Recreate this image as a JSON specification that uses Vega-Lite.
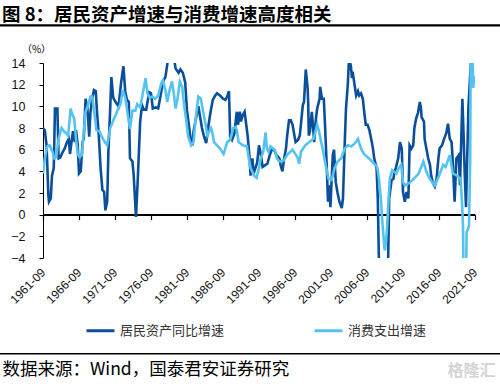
{
  "$schema": "https://vega.github.io/schema/vega-lite/v6.json",
  "autosize": "none",
  "width": 432,
  "height": 195,
  "padding": {"left": 43, "top": 63, "right": 25, "bottom": 131},
  "background": "white",
  "title": {"text": "图 8：居民资产增速与消费增速高度相关", "anchor": "start", "frame": "group", "dx": -41, "dy": 4, "offset": 4, "font": "Noto Sans CJK SC", "fontSize": 18.5, "fontWeight": "bold", "color": "#000000"},
  "config": {"view": {"stroke": null}, "axis": {"labelFont": "Liberation Sans", "labelColor": "#111111", "domainColor": "#000000", "tickColor": "#000000", "grid": false}},
  "resolve": {"axis": {"x": "independent", "y": "independent"}},
  "data": {"values": [
        {"date": "1961-09", "series": "居民资产同比增速", "value": 8.0},
        {"date": "1961-12", "series": "居民资产同比增速", "value": 7.8},
        {"date": "1962-03", "series": "居民资产同比增速", "value": 6.4},
        {"date": "1962-06", "series": "居民资产同比增速", "value": 1.8},
        {"date": "1962-07", "series": "居民资产同比增速", "value": 1.2},
        {"date": "1962-10", "series": "居民资产同比增速", "value": 1.5},
        {"date": "1962-12", "series": "居民资产同比增速", "value": 3.6},
        {"date": "1963-03", "series": "居民资产同比增速", "value": 4.3},
        {"date": "1963-05", "series": "居民资产同比增速", "value": 9.8},
        {"date": "1963-09", "series": "居民资产同比增速", "value": 9.8},
        {"date": "1963-11", "series": "居民资产同比增速", "value": 5.2},
        {"date": "1964-02", "series": "居民资产同比增速", "value": 5.3},
        {"date": "1964-06", "series": "居民资产同比增速", "value": 5.8},
        {"date": "1964-09", "series": "居民资产同比增速", "value": 6.1},
        {"date": "1965-01", "series": "居民资产同比增速", "value": 6.7},
        {"date": "1965-04", "series": "居民资产同比增速", "value": 7.0},
        {"date": "1965-06", "series": "居民资产同比增速", "value": 5.6},
        {"date": "1965-09", "series": "居民资产同比增速", "value": 6.9},
        {"date": "1965-11", "series": "居民资产同比增速", "value": 7.7},
        {"date": "1966-02", "series": "居民资产同比增速", "value": 6.7},
        {"date": "1966-04", "series": "居民资产同比增速", "value": 7.8},
        {"date": "1966-07", "series": "居民资产同比增速", "value": 6.4},
        {"date": "1966-09", "series": "居民资产同比增速", "value": 3.8},
        {"date": "1966-12", "series": "居民资产同比增速", "value": 4.0},
        {"date": "1967-03", "series": "居民资产同比增速", "value": 6.7},
        {"date": "1967-05", "series": "居民资产同比增速", "value": 7.0},
        {"date": "1967-08", "series": "居民资产同比增速", "value": 10.7},
        {"date": "1967-11", "series": "居民资产同比增速", "value": 9.8},
        {"date": "1968-02", "series": "居民资产同比增速", "value": 7.2},
        {"date": "1968-04", "series": "居民资产同比增速", "value": 9.4},
        {"date": "1968-07", "series": "居民资产同比增速", "value": 10.7},
        {"date": "1968-10", "series": "居民资产同比增速", "value": 11.5},
        {"date": "1969-01", "series": "居民资产同比增速", "value": 11.4},
        {"date": "1969-03", "series": "居民资产同比增速", "value": 9.5},
        {"date": "1969-06", "series": "居民资产同比增速", "value": 7.3},
        {"date": "1969-09", "series": "居民资产同比增速", "value": 4.3},
        {"date": "1969-12", "series": "居民资产同比增速", "value": 2.3},
        {"date": "1970-03", "series": "居民资产同比增速", "value": 2.1},
        {"date": "1970-05", "series": "居民资产同比增速", "value": 0.4},
        {"date": "1970-08", "series": "居民资产同比增速", "value": 1.2},
        {"date": "1970-10", "series": "居民资产同比增速", "value": 5.8},
        {"date": "1971-01", "series": "居民资产同比增速", "value": 9.8},
        {"date": "1971-03", "series": "居民资产同比增速", "value": 12.7},
        {"date": "1971-06", "series": "居民资产同比增速", "value": 10.8},
        {"date": "1971-11", "series": "居民资产同比增速", "value": 10.3},
        {"date": "1972-03", "series": "居民资产同比增速", "value": 10.0},
        {"date": "1972-07", "series": "居民资产同比增速", "value": 12.1},
        {"date": "1972-11", "series": "居民资产同比增速", "value": 13.7},
        {"date": "1973-02", "series": "居民资产同比增速", "value": 11.4},
        {"date": "1973-05", "series": "居民资产同比增速", "value": 10.6},
        {"date": "1973-08", "series": "居民资产同比增速", "value": 10.4},
        {"date": "1973-10", "series": "居民资产同比增速", "value": 5.2},
        {"date": "1974-02", "series": "居民资产同比增速", "value": 4.9},
        {"date": "1974-04", "series": "居民资产同比增速", "value": 3.8},
        {"date": "1974-08", "series": "居民资产同比增速", "value": -0.2},
        {"date": "1974-11", "series": "居民资产同比增速", "value": 3.3},
        {"date": "1975-03", "series": "居民资产同比增速", "value": 8.6},
        {"date": "1975-06", "series": "居民资产同比增速", "value": 10.1},
        {"date": "1975-09", "series": "居民资产同比增速", "value": 9.7},
        {"date": "1976-01", "series": "居民资产同比增速", "value": 9.7},
        {"date": "1976-06", "series": "居民资产同比增速", "value": 11.3},
        {"date": "1976-09", "series": "居民资产同比增速", "value": 11.2},
        {"date": "1976-12", "series": "居民资产同比增速", "value": 9.8},
        {"date": "1977-05", "series": "居民资产同比增速", "value": 9.9},
        {"date": "1977-09", "series": "居民资产同比增速", "value": 9.8},
        {"date": "1978-01", "series": "居民资产同比增速", "value": 11.0},
        {"date": "1978-05", "series": "居民资产同比增速", "value": 12.3},
        {"date": "1978-09", "series": "居民资产同比增速", "value": 12.7},
        {"date": "1979-01", "series": "居民资产同比增速", "value": 14.2},
        {"date": "1979-06", "series": "居民资产同比增速", "value": 14.3},
        {"date": "1979-12", "series": "居民资产同比增速", "value": 14.2},
        {"date": "1980-02", "series": "居民资产同比增速", "value": 13.5},
        {"date": "1980-07", "series": "居民资产同比增速", "value": 13.1},
        {"date": "1980-10", "series": "居民资产同比增速", "value": 13.4},
        {"date": "1981-02", "series": "居民资产同比增速", "value": 13.1},
        {"date": "1981-06", "series": "居民资产同比增速", "value": 12.2},
        {"date": "1981-09", "series": "居民资产同比增速", "value": 9.6},
        {"date": "1981-12", "series": "居民资产同比增速", "value": 8.3},
        {"date": "1982-03", "series": "居民资产同比增速", "value": 7.0},
        {"date": "1982-06", "series": "居民资产同比增速", "value": 6.4},
        {"date": "1982-08", "series": "居民资产同比增速", "value": 7.7},
        {"date": "1982-11", "series": "居民资产同比增速", "value": 8.6},
        {"date": "1983-04", "series": "居民资产同比增速", "value": 10.0},
        {"date": "1983-07", "series": "居民资产同比增速", "value": 9.0},
        {"date": "1983-10", "series": "居民资产同比增速", "value": 8.0},
        {"date": "1984-01", "series": "居民资产同比增速", "value": 7.3},
        {"date": "1984-05", "series": "居民资产同比增速", "value": 6.6},
        {"date": "1984-09", "series": "居民资产同比增速", "value": 8.3},
        {"date": "1984-12", "series": "居民资产同比增速", "value": 9.4},
        {"date": "1985-04", "series": "居民资产同比增速", "value": 10.6},
        {"date": "1985-08", "series": "居民资产同比增速", "value": 11.0},
        {"date": "1985-11", "series": "居民资产同比增速", "value": 11.2},
        {"date": "1986-04", "series": "居民资产同比增速", "value": 11.0},
        {"date": "1986-09", "series": "居民资产同比增速", "value": 10.7},
        {"date": "1987-01", "series": "居民资产同比增速", "value": 10.6},
        {"date": "1987-04", "series": "居民资产同比增速", "value": 10.9},
        {"date": "1987-07", "series": "居民资产同比增速", "value": 11.4},
        {"date": "1987-09", "series": "居民资产同比增速", "value": 7.2},
        {"date": "1987-12", "series": "居民资产同比增速", "value": 6.9},
        {"date": "1988-04", "series": "居民资产同比增速", "value": 7.5},
        {"date": "1988-08", "series": "居民资产同比增速", "value": 9.5},
        {"date": "1988-10", "series": "居民资产同比增速", "value": 8.3},
        {"date": "1989-01", "series": "居民资产同比增速", "value": 9.5},
        {"date": "1989-03", "series": "居民资产同比增速", "value": 8.6},
        {"date": "1989-06", "series": "居民资产同比增速", "value": 9.2},
        {"date": "1989-09", "series": "居民资产同比增速", "value": 9.5},
        {"date": "1990-02", "series": "居民资产同比增速", "value": 7.3},
        {"date": "1990-05", "series": "居民资产同比增速", "value": 5.5},
        {"date": "1990-07", "series": "居民资产同比增速", "value": 3.6},
        {"date": "1990-10", "series": "居民资产同比增速", "value": 5.2},
        {"date": "1990-12", "series": "居民资产同比增速", "value": 3.8},
        {"date": "1991-03", "series": "居民资产同比增速", "value": 4.3},
        {"date": "1991-06", "series": "居民资产同比增速", "value": 4.8},
        {"date": "1991-09", "series": "居民资产同比增速", "value": 6.4},
        {"date": "1991-12", "series": "居民资产同比增速", "value": 5.6},
        {"date": "1992-03", "series": "居民资产同比增速", "value": 4.4},
        {"date": "1992-08", "series": "居民资产同比增速", "value": 4.6},
        {"date": "1992-11", "series": "居民资产同比增速", "value": 4.7},
        {"date": "1993-03", "series": "居民资产同比增速", "value": 5.5},
        {"date": "1993-07", "series": "居民资产同比增速", "value": 6.1},
        {"date": "1993-10", "series": "居民资产同比增速", "value": 6.0},
        {"date": "1994-02", "series": "居民资产同比增速", "value": 5.5},
        {"date": "1994-07", "series": "居民资产同比增速", "value": 5.2},
        {"date": "1994-09", "series": "居民资产同比增速", "value": 4.6},
        {"date": "1994-12", "series": "居民资产同比增速", "value": 4.0},
        {"date": "1995-03", "series": "居民资产同比增速", "value": 5.2},
        {"date": "1995-06", "series": "居民资产同比增速", "value": 6.1},
        {"date": "1995-08", "series": "居民资产同比增速", "value": 7.3},
        {"date": "1995-11", "series": "居民资产同比增速", "value": 8.7},
        {"date": "1996-02", "series": "居民资产同比增速", "value": 8.7},
        {"date": "1996-05", "series": "居民资产同比增速", "value": 8.3},
        {"date": "1996-08", "series": "居民资产同比增速", "value": 7.3},
        {"date": "1996-10", "series": "居民资产同比增速", "value": 6.7},
        {"date": "1997-02", "series": "居民资产同比增速", "value": 6.9},
        {"date": "1997-05", "series": "居民资产同比增速", "value": 7.3},
        {"date": "1997-07", "series": "居民资产同比增速", "value": 8.4},
        {"date": "1997-10", "series": "居民资产同比增速", "value": 10.1},
        {"date": "1997-12", "series": "居民资产同比增速", "value": 10.4},
        {"date": "1998-03", "series": "居民资产同比增速", "value": 13.4},
        {"date": "1998-06", "series": "居民资产同比增速", "value": 11.7},
        {"date": "1998-07", "series": "居民资产同比增速", "value": 10.4},
        {"date": "1998-08", "series": "居民资产同比增速", "value": 7.3},
        {"date": "1998-10", "series": "居民资产同比增速", "value": 7.7},
        {"date": "1999-01", "series": "居民资产同比增速", "value": 9.5},
        {"date": "1999-03", "series": "居民资产同比增速", "value": 8.3},
        {"date": "1999-05", "series": "居民资产同比增速", "value": 6.7},
        {"date": "1999-08", "series": "居民资产同比增速", "value": 8.9},
        {"date": "1999-10", "series": "居民资产同比增速", "value": 9.8},
        {"date": "2000-02", "series": "居民资产同比增速", "value": 10.7},
        {"date": "2000-03", "series": "居民资产同比增速", "value": 11.8},
        {"date": "2000-06", "series": "居民资产同比增速", "value": 10.7},
        {"date": "2000-09", "series": "居民资产同比增速", "value": 10.7},
        {"date": "2000-11", "series": "居民资产同比增速", "value": 8.3},
        {"date": "2001-02", "series": "居民资产同比增速", "value": 4.3},
        {"date": "2001-04", "series": "居民资产同比增速", "value": 1.2},
        {"date": "2001-06", "series": "居民资产同比增速", "value": 2.7},
        {"date": "2001-08", "series": "居民资产同比增速", "value": 0.7},
        {"date": "2001-12", "series": "居民资产同比增速", "value": 5.5},
        {"date": "2002-02", "series": "居民资产同比增速", "value": 6.0},
        {"date": "2002-05", "series": "居民资产同比增速", "value": 3.0},
        {"date": "2002-08", "series": "居民资产同比增速", "value": 2.0},
        {"date": "2002-11", "series": "居民资产同比增速", "value": 1.2},
        {"date": "2003-03", "series": "居民资产同比增速", "value": 0.6},
        {"date": "2003-05", "series": "居民资产同比增速", "value": 1.5},
        {"date": "2003-08", "series": "居民资产同比增速", "value": 6.7},
        {"date": "2003-10", "series": "居民资产同比增速", "value": 9.8},
        {"date": "2004-01", "series": "居民资产同比增速", "value": 12.0},
        {"date": "2004-03", "series": "居民资产同比增速", "value": 14.3},
        {"date": "2004-06", "series": "居民资产同比增速", "value": 13.8},
        {"date": "2004-08", "series": "居民资产同比增速", "value": 12.6},
        {"date": "2004-09", "series": "居民资产同比增速", "value": 13.2},
        {"date": "2004-12", "series": "居民资产同比增速", "value": 12.1},
        {"date": "2005-03", "series": "居民资产同比增速", "value": 11.0},
        {"date": "2005-06", "series": "居民资产同比增速", "value": 11.4},
        {"date": "2005-08", "series": "居民资产同比增速", "value": 11.0},
        {"date": "2005-11", "series": "居民资产同比增速", "value": 11.2},
        {"date": "2006-02", "series": "居民资产同比增速", "value": 10.7},
        {"date": "2006-05", "series": "居民资产同比增速", "value": 9.2},
        {"date": "2006-07", "series": "居民资产同比增速", "value": 8.3},
        {"date": "2006-10", "series": "居民资产同比增速", "value": 8.3},
        {"date": "2007-01", "series": "居民资产同比增速", "value": 7.8},
        {"date": "2007-05", "series": "居民资产同比增速", "value": 6.7},
        {"date": "2007-07", "series": "居民资产同比增速", "value": 6.1},
        {"date": "2007-09", "series": "居民资产同比增速", "value": 5.2},
        {"date": "2008-01", "series": "居民资产同比增速", "value": 4.3},
        {"date": "2008-03", "series": "居民资产同比增速", "value": 1.5},
        {"date": "2008-05", "series": "居民资产同比增速", "value": -4.5},
        {"date": "2008-08", "series": "居民资产同比增速", "value": -8.0},
        {"date": "2009-02", "series": "居民资产同比增速", "value": -10.0},
        {"date": "2009-06", "series": "居民资产同比增速", "value": -7.0},
        {"date": "2009-08", "series": "居民资产同比增速", "value": -5.0},
        {"date": "2009-10", "series": "居民资产同比增速", "value": 1.5},
        {"date": "2010-02", "series": "居民资产同比增速", "value": 3.2},
        {"date": "2010-05", "series": "居民资产同比增速", "value": 3.3},
        {"date": "2010-07", "series": "居民资产同比增速", "value": 4.0},
        {"date": "2010-09", "series": "居民资产同比增速", "value": 4.3},
        {"date": "2011-01", "series": "居民资产同比增速", "value": 5.2},
        {"date": "2011-04", "series": "居民资产同比增速", "value": 6.7},
        {"date": "2011-07", "series": "居民资产同比增速", "value": 6.1},
        {"date": "2011-09", "series": "居民资产同比增速", "value": 2.1},
        {"date": "2011-12", "series": "居民资产同比增速", "value": 1.2},
        {"date": "2012-03", "series": "居民资产同比增速", "value": 2.1},
        {"date": "2012-06", "series": "居民资产同比增速", "value": 1.5},
        {"date": "2012-08", "series": "居民资产同比增速", "value": 6.4},
        {"date": "2012-11", "series": "居民资产同比增速", "value": 6.1},
        {"date": "2013-02", "series": "居民资产同比增速", "value": 6.4},
        {"date": "2013-04", "series": "居民资产同比增速", "value": 8.0},
        {"date": "2013-07", "series": "居民资产同比增速", "value": 8.9},
        {"date": "2013-10", "series": "居民资产同比增速", "value": 9.4},
        {"date": "2014-01", "series": "居民资产同比增速", "value": 10.4},
        {"date": "2014-03", "series": "居民资产同比增速", "value": 9.8},
        {"date": "2014-04", "series": "居民资产同比增速", "value": 9.0},
        {"date": "2014-08", "series": "居民资产同比增速", "value": 8.6},
        {"date": "2014-09", "series": "居民资产同比增速", "value": 7.0},
        {"date": "2014-12", "series": "居民资产同比增速", "value": 6.1},
        {"date": "2015-03", "series": "居民资产同比增速", "value": 5.2},
        {"date": "2015-06", "series": "居民资产同比增速", "value": 4.6},
        {"date": "2015-08", "series": "居民资产同比增速", "value": 3.6},
        {"date": "2015-11", "series": "居民资产同比增速", "value": 2.9},
        {"date": "2016-02", "series": "居民资产同比增速", "value": 2.6},
        {"date": "2016-05", "series": "居民资产同比增速", "value": 3.3},
        {"date": "2016-08", "series": "居民资产同比增速", "value": 5.2},
        {"date": "2016-10", "series": "居民资产同比增速", "value": 6.1},
        {"date": "2017-02", "series": "居民资产同比增速", "value": 6.4},
        {"date": "2017-05", "series": "居民资产同比增速", "value": 6.9},
        {"date": "2017-07", "series": "居民资产同比增速", "value": 7.2},
        {"date": "2017-09", "series": "居民资产同比增速", "value": 7.5},
        {"date": "2017-12", "series": "居民资产同比增速", "value": 8.4},
        {"date": "2018-03", "series": "居民资产同比增速", "value": 7.0},
        {"date": "2018-06", "series": "居民资产同比增速", "value": 6.7},
        {"date": "2018-08", "series": "居民资产同比增速", "value": 4.9},
        {"date": "2018-11", "series": "居民资产同比增速", "value": 1.2},
        {"date": "2019-02", "series": "居民资产同比增速", "value": 5.2},
        {"date": "2019-06", "series": "居民资产同比增速", "value": 5.5},
        {"date": "2019-08", "series": "居民资产同比增速", "value": 2.7},
        {"date": "2019-10", "series": "居民资产同比增速", "value": 6.7},
        {"date": "2019-12", "series": "居民资产同比增速", "value": 10.7},
        {"date": "2020-02", "series": "居民资产同比增速", "value": 7.3},
        {"date": "2020-04", "series": "居民资产同比增速", "value": 3.6},
        {"date": "2020-06", "series": "居民资产同比增速", "value": 0.7},
        {"date": "2020-08", "series": "居民资产同比增速", "value": 5.2},
        {"date": "2020-10", "series": "居民资产同比增速", "value": 9.8},
        {"date": "2021-01", "series": "居民资产同比增速", "value": 13.0},
        {"date": "2021-03", "series": "居民资产同比增速", "value": 14.8},
        {"date": "2021-06", "series": "居民资产同比增速", "value": 14.6},
        {"date": "1961-09", "series": "消费支出增速", "value": 3.8},
        {"date": "1961-12", "series": "消费支出增速", "value": 5.2},
        {"date": "1962-04", "series": "消费支出增速", "value": 6.3},
        {"date": "1962-08", "series": "消费支出增速", "value": 6.4},
        {"date": "1963-01", "series": "消费支出增速", "value": 5.8},
        {"date": "1963-04", "series": "消费支出增速", "value": 5.2},
        {"date": "1963-07", "series": "消费支出增速", "value": 5.3},
        {"date": "1963-11", "series": "消费支出增速", "value": 7.0},
        {"date": "1964-04", "series": "消费支出增速", "value": 8.0},
        {"date": "1964-08", "series": "消费支出增速", "value": 7.7},
        {"date": "1964-12", "series": "消费支出增速", "value": 7.5},
        {"date": "1965-03", "series": "消费支出增速", "value": 7.3},
        {"date": "1965-07", "series": "消费支出增速", "value": 9.8},
        {"date": "1965-10", "series": "消费支出增速", "value": 9.2},
        {"date": "1966-01", "series": "消费支出增速", "value": 8.9},
        {"date": "1966-04", "series": "消费支出增速", "value": 7.0},
        {"date": "1966-07", "series": "消费支出增速", "value": 5.6},
        {"date": "1966-10", "series": "消费支出增速", "value": 5.3},
        {"date": "1967-02", "series": "消费支出增速", "value": 5.5},
        {"date": "1967-05", "series": "消费支出增速", "value": 7.7},
        {"date": "1967-08", "series": "消费支出增速", "value": 9.5},
        {"date": "1967-12", "series": "消费支出增速", "value": 10.1},
        {"date": "1968-04", "series": "消费支出增速", "value": 10.9},
        {"date": "1968-07", "series": "消费支出增速", "value": 10.9},
        {"date": "1968-11", "series": "消费支出增速", "value": 9.2},
        {"date": "1969-02", "series": "消费支出增速", "value": 7.8},
        {"date": "1969-07", "series": "消费支出增速", "value": 7.7},
        {"date": "1969-11", "series": "消费支出增速", "value": 7.2},
        {"date": "1970-04", "series": "消费支出增速", "value": 6.7},
        {"date": "1970-08", "series": "消费支出增速", "value": 6.4},
        {"date": "1971-01", "series": "消费支出增速", "value": 8.0},
        {"date": "1971-04", "series": "消费支出增速", "value": 8.4},
        {"date": "1971-07", "series": "消费支出增速", "value": 8.8},
        {"date": "1971-11", "series": "消费支出增速", "value": 9.3},
        {"date": "1972-01", "series": "消费支出增速", "value": 9.6},
        {"date": "1972-06", "series": "消费支出增速", "value": 10.2},
        {"date": "1972-10", "series": "消费支出增速", "value": 11.5},
        {"date": "1973-02", "series": "消费支出增速", "value": 10.8},
        {"date": "1973-07", "series": "消费支出增速", "value": 9.0},
        {"date": "1973-10", "series": "消费支出增速", "value": 7.9},
        {"date": "1974-02", "series": "消费支出增速", "value": 9.6},
        {"date": "1974-07", "series": "消费支出增速", "value": 9.6},
        {"date": "1974-10", "series": "消费支出增速", "value": 10.2},
        {"date": "1975-03", "series": "消费支出增速", "value": 9.9},
        {"date": "1975-08", "series": "消费支出增速", "value": 11.4},
        {"date": "1975-12", "series": "消费支出增速", "value": 12.6},
        {"date": "1976-03", "series": "消费支出增速", "value": 11.2},
        {"date": "1976-07", "series": "消费支出增速", "value": 10.8},
        {"date": "1976-11", "series": "消费支出增速", "value": 10.9},
        {"date": "1977-04", "series": "消费支出增速", "value": 10.7},
        {"date": "1977-09", "series": "消费支出增速", "value": 11.0},
        {"date": "1978-02", "series": "消费支出增速", "value": 12.1},
        {"date": "1978-05", "series": "消费支出增速", "value": 12.4},
        {"date": "1978-09", "series": "消费支出增速", "value": 11.5},
        {"date": "1978-12", "series": "消费支出增速", "value": 10.4},
        {"date": "1979-04", "series": "消费支出增速", "value": 11.5},
        {"date": "1979-08", "series": "消费支出增速", "value": 12.3},
        {"date": "1979-11", "series": "消费支出增速", "value": 11.2},
        {"date": "1980-02", "series": "消费支出增速", "value": 9.8},
        {"date": "1980-05", "series": "消费支出增速", "value": 10.6},
        {"date": "1980-09", "series": "消费支出增速", "value": 12.3},
        {"date": "1981-01", "series": "消费支出增速", "value": 11.8},
        {"date": "1981-04", "series": "消费支出增速", "value": 10.2},
        {"date": "1981-08", "series": "消费支出增速", "value": 8.6},
        {"date": "1981-11", "series": "消费支出增速", "value": 7.2},
        {"date": "1982-04", "series": "消费支出增速", "value": 6.4},
        {"date": "1982-08", "series": "消费支出增速", "value": 6.7},
        {"date": "1982-11", "series": "消费支出增速", "value": 8.6},
        {"date": "1983-02", "series": "消费支出增速", "value": 10.1},
        {"date": "1983-04", "series": "消费支出增速", "value": 10.9},
        {"date": "1983-08", "series": "消费支出增速", "value": 10.7},
        {"date": "1983-10", "series": "消费支出增速", "value": 10.1},
        {"date": "1984-01", "series": "消费支出增速", "value": 9.2},
        {"date": "1984-04", "series": "消费支出增速", "value": 8.3},
        {"date": "1984-07", "series": "消费支出增速", "value": 7.3},
        {"date": "1985-01", "series": "消费支出增速", "value": 8.0},
        {"date": "1985-03", "series": "消费支出增速", "value": 7.7},
        {"date": "1985-06", "series": "消费支出增速", "value": 6.7},
        {"date": "1985-11", "series": "消费支出增速", "value": 6.4},
        {"date": "1986-04", "series": "消费支出增速", "value": 6.1},
        {"date": "1986-10", "series": "消费支出增速", "value": 5.6},
        {"date": "1987-04", "series": "消费支出增速", "value": 6.7},
        {"date": "1987-09", "series": "消费支出增速", "value": 6.9},
        {"date": "1988-02", "series": "消费支出增速", "value": 8.0},
        {"date": "1988-06", "series": "消费支出增速", "value": 8.1},
        {"date": "1988-08", "series": "消费支出增速", "value": 7.8},
        {"date": "1988-11", "series": "消费支出增速", "value": 6.7},
        {"date": "1989-06", "series": "消费支出增速", "value": 6.4},
        {"date": "1990-01", "series": "消费支出增速", "value": 6.3},
        {"date": "1990-04", "series": "消费支出增速", "value": 5.2},
        {"date": "1990-07", "series": "消费支出增速", "value": 4.3},
        {"date": "1991-01", "series": "消费支出增速", "value": 3.6},
        {"date": "1991-05", "series": "消费支出增速", "value": 3.4},
        {"date": "1991-09", "series": "消费支出增速", "value": 4.3},
        {"date": "1991-12", "series": "消费支出增速", "value": 5.2},
        {"date": "1992-04", "series": "消费支出增速", "value": 5.8},
        {"date": "1992-08", "series": "消费支出增速", "value": 7.6},
        {"date": "1992-10", "series": "消费支出增速", "value": 6.1},
        {"date": "1993-01", "series": "消费支出增速", "value": 5.8},
        {"date": "1993-04", "series": "消费支出增速", "value": 6.3},
        {"date": "1993-11", "series": "消费支出增速", "value": 6.0},
        {"date": "1994-03", "series": "消费支出增速", "value": 5.2},
        {"date": "1994-07", "series": "消费支出增速", "value": 4.9},
        {"date": "1995-02", "series": "消费支出增速", "value": 5.0},
        {"date": "1995-09", "series": "消费支出增速", "value": 5.6},
        {"date": "1996-05", "series": "消费支出增速", "value": 6.0},
        {"date": "1997-01", "series": "消费支出增速", "value": 5.3},
        {"date": "1997-04", "series": "消费支出增速", "value": 4.7},
        {"date": "1997-07", "series": "消费支出增速", "value": 5.8},
        {"date": "1998-02", "series": "消费支出增速", "value": 6.4},
        {"date": "1998-09", "series": "消费支出增速", "value": 6.7},
        {"date": "1999-04", "series": "消费支出增速", "value": 7.0},
        {"date": "1999-10", "series": "消费支出增速", "value": 8.3},
        {"date": "2000-01", "series": "消费支出增速", "value": 7.7},
        {"date": "2000-07", "series": "消费支出增速", "value": 6.1},
        {"date": "2000-12", "series": "消费支出增速", "value": 4.6},
        {"date": "2001-05", "series": "消费支出增速", "value": 3.3},
        {"date": "2001-10", "series": "消费支出增速", "value": 3.2},
        {"date": "2002-03", "series": "消费支出增速", "value": 4.3},
        {"date": "2002-08", "series": "消费支出增速", "value": 4.9},
        {"date": "2003-02", "series": "消费支出增速", "value": 5.2},
        {"date": "2003-08", "series": "消费支出增速", "value": 6.1},
        {"date": "2004-01", "series": "消费支出增速", "value": 6.4},
        {"date": "2004-07", "series": "消费支出增速", "value": 6.3},
        {"date": "2005-01", "series": "消费支出增速", "value": 6.6},
        {"date": "2005-06", "series": "消费支出增速", "value": 7.0},
        {"date": "2005-11", "series": "消费支出增速", "value": 6.1},
        {"date": "2006-04", "series": "消费支出增速", "value": 5.6},
        {"date": "2006-10", "series": "消费支出增速", "value": 5.3},
        {"date": "2007-04", "series": "消费支出增速", "value": 5.0},
        {"date": "2007-09", "series": "消费支出增速", "value": 4.7},
        {"date": "2008-02", "series": "消费支出增速", "value": 4.4},
        {"date": "2008-05", "series": "消费支出增速", "value": 3.3},
        {"date": "2008-08", "series": "消费支出增速", "value": 1.5},
        {"date": "2008-11", "series": "消费支出增速", "value": -1.0},
        {"date": "2009-02", "series": "消费支出增速", "value": -3.1},
        {"date": "2009-03", "series": "消费支出增速", "value": -3.3},
        {"date": "2009-06", "series": "消费支出增速", "value": -1.6},
        {"date": "2009-09", "series": "消费支出增速", "value": 1.5},
        {"date": "2009-11", "series": "消费支出增速", "value": 3.3},
        {"date": "2010-03", "series": "消费支出增速", "value": 4.1},
        {"date": "2010-10", "series": "消费支出增速", "value": 3.8},
        {"date": "2011-02", "series": "消费支出增速", "value": 4.3},
        {"date": "2011-06", "series": "消费支出增速", "value": 4.6},
        {"date": "2011-09", "series": "消费支出增速", "value": 3.0},
        {"date": "2011-12", "series": "消费支出增速", "value": 2.7},
        {"date": "2012-07", "series": "消费支出增速", "value": 2.9},
        {"date": "2013-03", "series": "消费支出增速", "value": 3.3},
        {"date": "2013-11", "series": "消费支出增速", "value": 3.8},
        {"date": "2014-07", "series": "消费支出增速", "value": 4.9},
        {"date": "2015-01", "series": "消费支出增速", "value": 3.8},
        {"date": "2015-07", "series": "消费支出增速", "value": 3.2},
        {"date": "2016-02", "series": "消费支出增速", "value": 2.7},
        {"date": "2016-09", "series": "消费支出增速", "value": 3.6},
        {"date": "2017-04", "series": "消费支出增速", "value": 4.6},
        {"date": "2017-08", "series": "消费支出增速", "value": 4.4},
        {"date": "2018-03", "series": "消费支出增速", "value": 5.5},
        {"date": "2018-08", "series": "消费支出增速", "value": 3.8},
        {"date": "2019-03", "series": "消费支出增速", "value": 3.6},
        {"date": "2019-09", "series": "消费支出增速", "value": 3.3},
        {"date": "2019-11", "series": "消费支出增速", "value": 1.5},
        {"date": "2020-01", "series": "消费支出增速", "value": -1.0},
        {"date": "2020-02", "series": "消费支出增速", "value": -7.0},
        {"date": "2020-06", "series": "消费支出增速", "value": -7.0},
        {"date": "2020-07", "series": "消费支出增速", "value": -1.6},
        {"date": "2020-09", "series": "消费支出增速", "value": -1.4},
        {"date": "2020-11", "series": "消费支出增速", "value": -1.0},
        {"date": "2021-01", "series": "消费支出增速", "value": 5.2},
        {"date": "2021-02", "series": "消费支出增速", "value": 18.0},
        {"date": "2021-04", "series": "消费支出增速", "value": 18.0},
        {"date": "2021-06", "series": "消费支出增速", "value": 11.7},
        {"date": "2021-08", "series": "消费支出增速", "value": 12.6},
        {"date": "2021-09", "series": "消费支出增速", "value": 12.8}
  ]},
  "layer": [
    {
      "mark": {"type": "rect", "fill": "#000000", "opacity": 1, "clip": false},
      "encoding": {
        "x": {"aggregate": "min", "field": "date", "type": "temporal",
          "axis": {"orient": "bottom", "labels": false, "ticks": false, "domain": false,
            "title": "格隆汇", "titleFont": "Noto Sans CJK SC", "titleFontSize": 16, "titleFontWeight": "bold", "titleColor": "#d4d4d4", "titleX": 404, "titleY": 112, "titleAlign": "left", "titleBaseline": "middle", "titleAngle": 0}},
        "x2": {"aggregate": "max", "field": "date"},
        "y": {"datum": 0.07, "type": "quantitative", "axis": null},
        "y2": {"datum": -0.07}
      }
    },
    {
      "mark": {"type": "line", "strokeWidth": 2.6, "clip": true},
      "encoding": {
        "x": {"field": "date", "type": "temporal",
          "scale": {"type": "utc", "domain": [{"year": 1961, "month": 9, "date": 1, "utc": true}, {"year": 2021, "month": 9, "date": 1, "utc": true}]},
          "axis": {"orient": "bottom", "offset": -43.33, "domain": true, "domainColor": "#000000", "domainWidth": 1.5, "ticks": true, "tickSize": 5, "tickWidth": 1.2, "tickColor": "#000000",
            "labelAngle": -45, "labelAlign": "right", "labelBaseline": "middle", "labelFontSize": 12, "labelPadding": 50.3, "labelOverlap": false,
            "values": [{"year": 1961, "month": 9, "date": 1, "utc": true}, {"year": 1966, "month": 9, "date": 1, "utc": true}, {"year": 1971, "month": 9, "date": 1, "utc": true}, {"year": 1976, "month": 9, "date": 1, "utc": true}, {"year": 1981, "month": 9, "date": 1, "utc": true}, {"year": 1986, "month": 9, "date": 1, "utc": true}, {"year": 1991, "month": 9, "date": 1, "utc": true}, {"year": 1996, "month": 9, "date": 1, "utc": true}, {"year": 2001, "month": 9, "date": 1, "utc": true}, {"year": 2006, "month": 9, "date": 1, "utc": true}, {"year": 2011, "month": 9, "date": 1, "utc": true}, {"year": 2016, "month": 9, "date": 1, "utc": true}, {"year": 2021, "month": 9, "date": 1, "utc": true}],
            "labelExpr": "utcFormat(datum.value, '%Y-%m')",
            "title": "数据来源：Wind，国泰君安证券研究", "titleFont": "Noto Sans CJK SC", "titleFontSize": 17.5, "titleFontWeight": "normal", "titleColor": "#000000", "titleX": -41, "titleY": 155.3, "titleAlign": "left", "titleBaseline": "middle", "titleAngle": 0}},
        "y": {"field": "value", "type": "quantitative",
          "scale": {"domain": [-4, 14]},
          "axis": {"orient": "left", "values": [-4, -2, 0, 2, 4, 6, 8, 10, 12, 14], "labelOverlap": false, "tickSize": 4, "labelFontSize": 12.5, "labelPadding": 14, "domainWidth": 1,
            "title": "（%）", "titleFont": "Noto Sans CJK SC", "titleFontSize": 10, "titleFontWeight": "normal", "titleColor": "#000000", "titleAngle": 0, "titleX": -7, "titleY": -14, "titleAlign": "center", "titleBaseline": "middle"}},
        "color": {"field": "series", "type": "nominal",
          "scale": {"domain": ["居民资产同比增速", "消费支出增速"], "range": ["#0b4f9b", "#55c3ef"]},
          "legend": {"orient": "none", "legendX": 42, "legendY": 252, "direction": "horizontal", "title": null, "symbolType": "stroke", "symbolSize": 784, "symbolStrokeWidth": 3, "labelFont": "Noto Sans CJK SC", "labelFontSize": 13, "labelColor": "#333333", "labelOffset": 4, "columnPadding": 83, "padding": 0}}
      }
    },
    {
      "mark": {"type": "rect", "fill": "#000000", "opacity": 1, "clip": false, "xOffset": -43, "x2Offset": 25},
      "encoding": {
        "x": {"aggregate": "min", "field": "date", "type": "temporal", "axis": null},
        "x2": {"aggregate": "max", "field": "date"},
        "y": {"datum": 17.58, "type": "quantitative", "axis": null},
        "y2": {"datum": 17.38}
      }
    },
    {
      "mark": {"type": "rect", "fill": "#000000", "opacity": 1, "clip": false, "xOffset": -43, "x2Offset": 25},
      "encoding": {
        "x": {"aggregate": "min", "field": "date", "type": "temporal", "axis": null},
        "x2": {"aggregate": "max", "field": "date"},
        "y": {"datum": -12.76, "type": "quantitative", "axis": null},
        "y2": {"datum": -12.91}
      }
    }
  ]
}
